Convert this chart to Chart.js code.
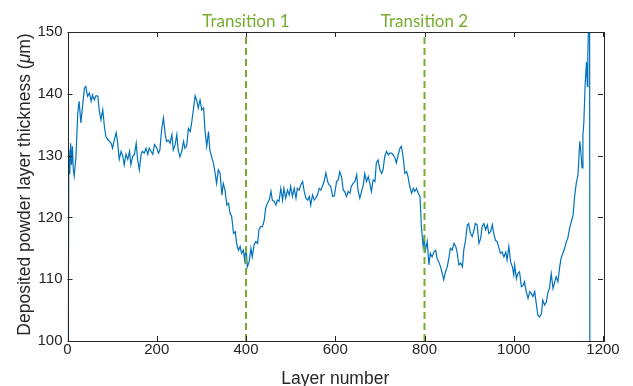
<!DOCTYPE html>
<html>
<head>
<meta charset="utf-8">
<title>Deposited powder layer thickness</title>
<script src="https://cdn.jsdelivr.net/npm/chart.js@4"></script>
<style>
  html, body { margin: 0; padding: 0; background: #fff; }
  #wrap { width: 633px; height: 386px; position: relative; }
</style>
</head>
<body>
<div id="wrap"><canvas id="chart"></canvas></div>
<script>
// layer numbers and thickness values
const layers = [
  1, 3, 5, 7, 9, 11, 13, 15, 19, 23, 26, 30, 34, 38, 41, 45, 49, 53, 56, 60,
  64, 68, 71, 75, 79, 83, 86, 90, 94, 98, 101, 105, 109, 112, 116, 120, 124, 127, 131, 135,
  139, 142, 146, 150, 154, 157, 161, 165, 168, 172, 176, 180, 183, 187, 191, 195, 198, 200, 204, 207,
  211, 215, 219, 222, 226, 230, 234, 237, 241, 245, 248, 252, 256, 260, 263, 267, 271, 275, 278, 282,
  286, 290, 293, 297, 301, 305, 308, 312, 316, 319, 323, 327, 331, 334, 338, 342, 346, 349, 353, 357,
  361, 364, 368, 372, 376, 379, 383, 387, 390, 394, 397, 400, 403, 407, 411, 414, 418, 422, 426, 429,
  433, 437, 441, 444, 448, 452, 456, 459, 463, 467, 470, 474, 478, 482, 485, 489, 493, 497, 500, 504,
  508, 512, 515, 519, 523, 527, 530, 534, 538, 542, 545, 549, 553, 556, 560, 564, 568, 571, 575, 579,
  583, 586, 590, 594, 598, 603, 607, 610, 614, 618, 621, 625, 629, 633, 636, 640, 644, 648, 651, 655,
  659, 663, 666, 670, 674, 678, 681, 685, 689, 692, 696, 700, 704, 707, 711, 715, 719, 722, 726, 730,
  734, 737, 741, 745, 748, 752, 756, 760, 763, 767, 771, 775, 778, 782, 786, 790, 793, 797, 799, 802,
  806, 810, 813, 817, 821, 825, 828, 832, 836, 840, 843, 847, 851, 855, 858, 862, 866, 870, 873, 877,
  881, 885, 888, 892, 896, 899, 903, 907, 911, 914, 918, 922, 926, 929, 933, 937, 941, 944, 948, 952,
  955, 959, 963, 967, 970, 974, 978, 982, 985, 989, 993, 997, 1000, 1002, 1006, 1009, 1013, 1017, 1021, 1024,
  1028, 1032, 1036, 1039, 1043, 1047, 1050, 1054, 1058, 1062, 1065, 1069, 1073, 1077, 1080, 1084, 1088, 1092, 1095, 1099,
  1103, 1106, 1110, 1114, 1118, 1121, 1125, 1129, 1133, 1136, 1140, 1144, 1148, 1151, 1153, 1155, 1157, 1160, 1163, 1165,
  1166, 1168, 1170, 1171
];
const thickness = [
  85, 131, 127, 132, 128.5, 131.5, 127.7, 126.7, 129.9, 136.9, 138.8, 135.3, 138.2, 140.9, 141.2, 139.6, 140.1, 138.8, 139.8, 139,
  139.7, 139.6, 137.4, 135.8, 137.4, 134.5, 133.1, 132.6, 132.3, 132, 131.2, 132.6, 133.7, 132.3, 129.4, 130.7, 129.9, 128.5, 130.2, 129.4,
  130.7, 128.5, 129.9, 130.2, 132, 129.4, 127.7, 130.2, 130.7, 130.4, 131.2, 130.2, 131.2, 130.7, 130.2, 131.8, 131.5, 131.2, 130.4, 130.9,
  134.2, 136.1, 133.4, 132.3, 132.5, 132, 133.4, 130.9, 131.7, 133.4, 130.9, 129.8, 130.7, 132.3, 131.2, 131.5, 134.4, 133.9, 135.2, 137.4,
  139.7, 138.8, 137.7, 139, 137.4, 137.7, 134.2, 131.5, 133.9, 130.9, 129.8, 128.8, 127.1, 125.5, 127.7, 127.1, 123.6, 125.5, 124.4, 122,
  122.3, 120.7, 120.1, 117.4, 117.7, 115.8, 114.7, 115.3, 114.2, 114.7, 113.1, 115.3, 112, 112.8, 115, 113.6, 115.5, 116.1, 115.8, 118,
  118.5, 118.5, 119.6, 121.5, 122.3, 122.8, 124.2, 122.8, 122.6, 122, 122.8, 122.6, 124.7, 122.8, 124.7, 123.1, 124.4, 123.6, 125, 123.4,
  124.7, 123.1, 124.7, 124.4, 125.3, 125.8, 124.4, 123.1, 122.8, 123.4, 122, 123.6, 122.8, 123.1, 123.6, 124.7, 124.4, 125, 125.8, 127.2,
  125.8, 125.3, 125, 123.4, 123.5, 125.8, 126.1, 127.4, 126.6, 124.4, 124.2, 123.4, 124.2, 123.9, 125, 125.5, 125.8, 126.9, 124.4, 123.1,
  124.2, 125.3, 127.1, 125.8, 126.6, 125.3, 124.2, 126.1, 125.8, 128.8, 129.3, 127.7, 127.1, 127.7, 129.9, 130.7, 130.1, 130.4, 130.4, 130.1,
  129.6, 128.8, 130.1, 131.2, 131.5, 129.9, 127.1, 127.4, 126.6, 125, 123.9, 124.7, 124.2, 124.7, 123.9, 123.4, 118.5, 115.3, 116.6, 114.7,
  116.1, 112.3, 114.2, 113.6, 114.4, 114.7, 113.4, 112.8, 112, 110.9, 109.9, 111.2, 112, 113.6, 115, 114.7, 115.8, 115.3, 114.4, 112.3,
  112.6, 112, 114.7, 116.3, 118.8, 119, 117.4, 116.9, 118, 119, 118.8, 115.8, 116.6, 118.5, 119, 118, 118.8, 117.4, 117.7, 118.8,
  117.4, 116.3, 116.1, 115, 114.2, 114.4, 113.6, 114.4, 113.1, 115.3, 112.8, 112, 110.7, 112.3, 110.1, 110.9, 111.2, 108.8, 109, 109.6,
  108, 106.9, 108, 107.7, 107.2, 108, 106.3, 104.2, 103.9, 104.4, 106.6, 105.8, 106.3, 108, 108.5, 110.9, 108.5, 109.6, 110.4, 109.6,
  112, 113.4, 114.2, 115, 116.1, 116.6, 118.2, 119.3, 120.4, 123.1, 125.5, 126.9, 132.3, 130.1, 128, 133.4, 135.2, 141.5, 145.2, 141.2,
  146.3, 152, 150, 60
];
const transitions = [400, 800];
const transitionLabels = ['Transition 1', 'Transition 2'];
const xTicks = [0, 200, 400, 600, 800, 1000, 1200];
const yTicks = [100, 110, 120, 130, 140, 150];

const blue = '#0072BD';
const green = '#77AC30';
const axisColor = '#262626';

// box around the plot with inward tick marks, transition labels and y title
const boxPlugin = {
  id: 'box',
  afterDraw(chart) {
    const { ctx, chartArea: a, scales: { x, y } } = chart;
    const tl = 5;
    ctx.save();
    ctx.strokeStyle = axisColor;
    ctx.lineWidth = 1;
    ctx.strokeRect(Math.round(a.left) + 0.5, Math.round(a.top) + 0.5,
      Math.round(a.right - a.left), Math.round(a.bottom - a.top));
    ctx.beginPath();
    xTicks.forEach(v => {
      const px = Math.round(x.getPixelForValue(v)) + 0.5;
      ctx.moveTo(px, a.bottom); ctx.lineTo(px, a.bottom - tl);
      ctx.moveTo(px, a.top); ctx.lineTo(px, a.top + tl);
    });
    yTicks.forEach(v => {
      const py = Math.round(y.getPixelForValue(v)) + 0.5;
      ctx.moveTo(a.left, py); ctx.lineTo(a.left + tl, py);
      ctx.moveTo(a.right, py); ctx.lineTo(a.right - tl, py);
    });
    ctx.stroke();

    ctx.fillStyle = green;
    ctx.font = '17px Lato';
    ctx.textAlign = 'center';
    ctx.textBaseline = 'alphabetic';
    transitions.forEach((t, i) => {
      ctx.fillText(transitionLabels[i], x.getPixelForValue(t), a.top - 5);
    });

    // y axis title with italic mu
    const parts = [
      ['Deposited powder layer thickness (', '17.5px "Liberation Sans"'],
      ['μ', 'italic 17.5px "Liberation Sans"'],
      ['m)', '17.5px "Liberation Sans"']
    ];
    let total = 0;
    parts.forEach(p => { ctx.font = p[1]; total += ctx.measureText(p[0]).width; });
    ctx.translate(30, (a.top + a.bottom) / 2 - 2);
    ctx.rotate(-Math.PI / 2);
    ctx.fillStyle = axisColor;
    ctx.textAlign = 'left';
    let cx = -total / 2;
    parts.forEach(p => {
      ctx.font = p[1];
      ctx.fillText(p[0], cx, 0);
      cx += ctx.measureText(p[0]).width;
    });
    ctx.restore();
  }
};

const datasets = transitions.map(t => ({
  data: [{ x: t, y: 100 }, { x: t, y: 150 }],
  borderColor: green,
  borderWidth: 2,
  borderDash: [7, 4],
  pointRadius: 0
}));
datasets.push({
  data: layers.map((l, i) => ({ x: l, y: thickness[i] })),
  borderColor: blue,
  borderWidth: 1.2,
  pointRadius: 0,
  tension: 0
});

new Chart(document.getElementById('chart'), {
  type: 'line',
  data: { datasets },
  options: {
    responsive: true,
    maintainAspectRatio: false,
    animation: false,
    layout: { padding: { top: 32, right: 30, left: 0, bottom: 0 } },
    plugins: { legend: { display: false }, tooltip: { enabled: false } },
    scales: {
      x: {
        type: 'linear',
        min: 0, max: 1200,
        afterBuildTicks: s => { s.ticks = xTicks.map(v => ({ value: v })); },
        afterFit: s => { s.height = 45; },
        grid: { display: false, drawTicks: false },
        border: { display: false },
        ticks: {
          color: axisColor, padding: 0, maxRotation: 0,
          font: { family: 'Liberation Sans', size: 15 },
          callback: v => String(v)
        },
        title: {
          display: true, text: 'Layer number', color: axisColor,
          font: { family: 'Liberation Sans', size: 17.5 }, padding: { top: 0, bottom: -4 }
        }
      },
      y: {
        min: 100, max: 150,
        afterBuildTicks: s => { s.ticks = yTicks.map(v => ({ value: v })); },
        afterFit: s => { s.width = 67.5; },
        grid: { display: false, drawTicks: false },
        border: { display: false },
        ticks: {
          color: axisColor, padding: 5,
          font: { family: 'Liberation Sans', size: 15 },
          callback: v => String(v)
        }
      }
    }
  },
  plugins: [boxPlugin]
});
</script>
</body>
</html>
